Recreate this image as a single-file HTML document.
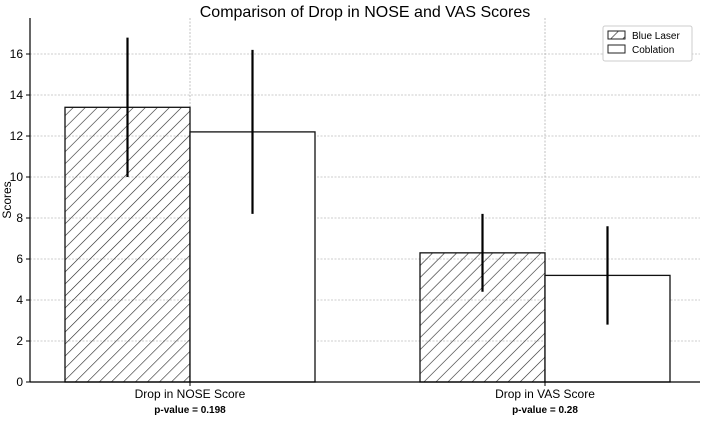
<!DOCTYPE html>
<html><head><meta charset="utf-8"><style>
body{margin:0;background:#fff;font-family:"Liberation Sans","DejaVu Sans",sans-serif}
</style></head><body>
<svg width="702" height="416" xmlns="http://www.w3.org/2000/svg">
<defs><pattern id="hatch" patternUnits="userSpaceOnUse" width="8.5" height="8.5" patternTransform="rotate(45)">
<line x1="0" y1="0" x2="0" y2="8.5" stroke="#222" stroke-width="1.2"/></pattern></defs>
<text x="365" y="17" text-anchor="middle" font-size="16">Comparison of Drop in NOSE and VAS Scores</text>
<g id="grid"></g><g id="bars"></g><g id="axes"></g>
<text transform="translate(11,200) rotate(-90)" text-anchor="middle" font-size="12">Scores</text>
<g>
<rect x="603" y="26" width="89" height="35" fill="#fff" stroke="#ccc" rx="2"/>
<rect x="608" y="31" width="17" height="8" fill="url(#hatch)" stroke="#222"/>
<text x="632" y="39" font-size="10">Blue Laser</text>
<rect x="608" y="45" width="17" height="8" fill="#fff" stroke="#222"/>
<text x="632" y="53" font-size="10">Coblation</text>
</g>
</svg>
<script>
const categories=["Drop in NOSE Score","Drop in VAS Score"];
const pValues=["p-value = 0.198","p-value = 0.28"];
const blueLaser=[13.4,6.3];
const blueLaserErr=[3.4,1.9];
const coblation=[12.2,5.2];
const coblationErr=[4.0,2.4];
const yTicks=[0,2,4,6,8,10,12,14,16];
const NS="http://www.w3.org/2000/svg";
const y0=382,unit=20.5,x0=30,x1=700,yTop=18;
const centers=[190,545],bw=125;
const y=v=>y0-v*unit;
function mk(t,a,p){const e=document.createElementNS(NS,t);for(const k in a)e.setAttribute(k,a[k]);p.appendChild(e);return e;}
const grid=document.getElementById('grid'),bars=document.getElementById('bars'),axes=document.getElementById('axes');
yTicks.forEach(v=>{
 if(v>0){const g=mk('line',{x1:x0,x2:x1,y1:y(v),y2:y(v),stroke:'#999','stroke-dasharray':'2,1.5','stroke-width':0.6},grid);
 
 }
 mk('line',{x1:x0-4,x2:x0,y1:y(v),y2:y(v),stroke:'#000'},axes);
 const t=mk('text',{x:x0-7,y:y(v)+4,'text-anchor':'end','font-size':12},axes);t.textContent=v;
 
 
});
centers.forEach((c,i)=>{
 const g=mk('line',{x1:c,x2:c,y1:yTop,y2:y0,stroke:'#999','stroke-dasharray':'2,1.5','stroke-width':0.6},grid);
 
 
 const sets=[[blueLaser,blueLaserErr,'url(#hatch)',c-bw,'blue-laser'],[coblation,coblationErr,'#fff',c,'coblation']];
 sets.forEach(s=>{
  const v=s[0][i],e=s[1][i];
  const r=mk('rect',{x:s[3],y:y(v),width:bw,height:y0-y(v),fill:s[2],stroke:'#111','stroke-width':1.3},bars);
  
  
  const l=mk('line',{x1:s[3]+bw/2,x2:s[3]+bw/2,y1:y(v-e),y2:y(v+e),stroke:'#000','stroke-width':2.2},bars);
  
  
 });
 mk('line',{x1:c,x2:c,y1:y0,y2:y0+4,stroke:'#000'},axes);
 const t=mk('text',{x:c,y:y0+16,'text-anchor':'middle','font-size':12},axes);t.textContent=categories[i];
 
 
 const p=mk('text',{x:c,y:y0+31,'text-anchor':'middle','font-size':10,'font-weight':'bold'},axes);p.textContent=pValues[i];
 
 
});
mk('line',{x1:x0,x2:x0,y1:yTop,y2:y0,stroke:'#000','stroke-width':1.2},axes);
mk('line',{x1:x0,x2:x1,y1:y0,y2:y0,stroke:'#000','stroke-width':1.2},axes);
</script>
</body></html>
